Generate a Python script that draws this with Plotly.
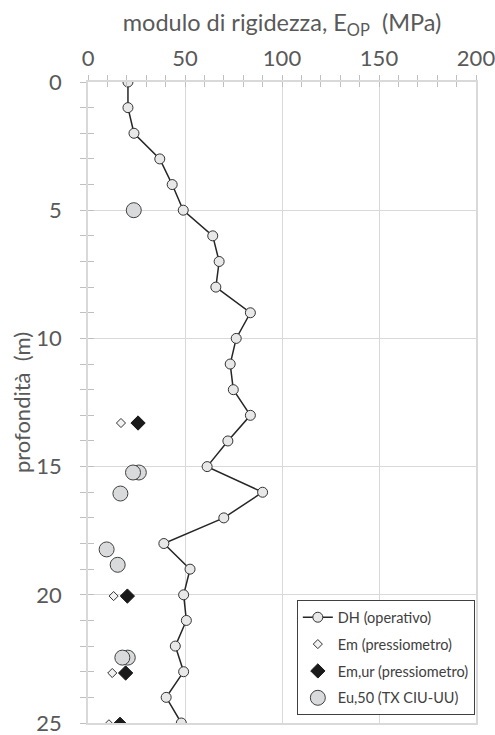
import plotly.graph_objects as go

# DH (operativo): stiffness modulus along the profile, one reading per metre
dh_depth = [0, 1, 2, 3, 4, 5, 6, 7, 8, 9, 10, 11, 12, 13, 14, 15, 16, 17, 18, 19, 20, 21, 22, 23, 24, 25]
dh_mod = [20.6, 20.6, 23.7, 37.0, 43.4, 49.1, 64.3, 67.6, 65.9, 83.7, 76.4, 73.3, 74.9, 83.7,
          72.1, 61.4, 90.0, 70.0, 39.1, 52.6, 49.3, 50.7, 45.0, 49.3, 40.3, 48.1]

# pressuremeter tests
pm_depth = [13.3, 20.05, 23.05, 25.05]
em_mod = [17.0, 13.2, 12.5, 10.8]
emur_mod = [25.8, 20.3, 19.4, 16.5]

# triaxial tests (TX CIU-UU)
tx_depth = [5.0, 15.23, 15.23, 16.05, 18.23, 18.83, 22.45, 22.45]
tx_mod = [23.6, 26.2, 23.2, 16.7, 9.6, 15.3, 20.5, 17.7]

FONT = "Lato, Carlito, Calibri, sans-serif"
TXT = "#595959"
GRID = "#d9d9d9"
TICK = "#bfbfbf"
FS = 22

fig = go.Figure()

fig.add_trace(go.Scatter(
    x=dh_mod, y=dh_depth, mode="lines+markers", name="DH (operativo)",
    line=dict(color="#262626", width=1.5),
    marker=dict(symbol="circle", size=10, color="#e8e8e8", line=dict(color="#333333", width=1)),
    legendgroup="a",
))
fig.add_trace(go.Scatter(
    x=em_mod, y=pm_depth, mode="markers", name="Em (pressiometro)",
    marker=dict(symbol="diamond", size=7, color="#f2f2f2", line=dict(color="#333333", width=1)),
    legendgroup="b",
))
fig.add_trace(go.Scatter(
    x=emur_mod, y=pm_depth, mode="markers", name="Em,ur (pressiometro)",
    marker=dict(symbol="diamond", size=11, color="#1a1a1a", line=dict(color="#1a1a1a", width=1)),
    legendgroup="c",
))
fig.add_trace(go.Scatter(
    x=tx_mod, y=tx_depth, mode="markers", name="Eu,50 (TX CIU-UU)",
    marker=dict(symbol="circle", size=15, color="#d9dadc", line=dict(color="#404040", width=1)),
    legendgroup="d",
))
# carrier for the second (inner-tick) axis pair
fig.add_trace(go.Scatter(x=[None], y=[None], xaxis="x2", yaxis="y2",
                         showlegend=False, hoverinfo="skip"))

xcommon = dict(range=[0, 200], dtick=50, tick0=0, automargin=False)
ycommon = dict(range=[25, 0], dtick=5, tick0=0, automargin=False)

fig.update_layout(
    width=495, height=735,
    margin=dict(l=88, r=19, t=82, b=12),
    paper_bgcolor="white", plot_bgcolor="white",
    font=dict(family=FONT, color=TXT, size=FS),
    xaxis=dict(
        **xcommon, side="top",
        title=dict(text="modulo di rigidezza, E<sub>OP</sub>\u00a0\u00a0(MPa)",
                   font=dict(size=23.5, color=TXT), standoff=6),
        showgrid=True, gridcolor=GRID, gridwidth=1,
        showline=True, linecolor=GRID, linewidth=1.5, mirror=True,
        ticks="outside", ticklen=5, tickcolor=TICK, tickwidth=1,
        minor=dict(dtick=10, ticks="outside", ticklen=5, tickcolor=TICK, tickwidth=1, showgrid=False),
        tickfont=dict(size=FS, color=TXT), ticklabelstandoff=0,
        ticklabeloverflow="allow",
        zeroline=False,
    ),
    yaxis=dict(
        **ycommon,
        title=dict(text="profondità\u00a0\u00a0(m)", font=dict(size=FS, color=TXT), standoff=0),
        showgrid=True, gridcolor=GRID, gridwidth=1,
        showline=True, linecolor=GRID, linewidth=1.5, mirror=True,
        ticks="outside", ticklen=6, tickcolor=TICK, tickwidth=1,
        minor=dict(dtick=1, ticks="outside", ticklen=6, tickcolor=TICK, tickwidth=1, showgrid=False),
        tickfont=dict(size=FS, color=TXT), ticklabelstandoff=14,
        ticklabeloverflow="allow",
        zeroline=False,
    ),
    xaxis2=dict(
        **xcommon, overlaying="x", side="top", anchor="y2",
        showgrid=False, showline=False, showticklabels=False, zeroline=False,
        ticks="inside", ticklen=5, tickcolor=TICK, tickwidth=1,
        minor=dict(dtick=10, ticks="inside", ticklen=5, tickcolor=TICK, tickwidth=1, showgrid=False),
    ),
    yaxis2=dict(
        **ycommon, overlaying="y", side="left", anchor="x2",
        showgrid=False, showline=False, showticklabels=False, zeroline=False,
        ticks="inside", ticklen=6, tickcolor=TICK, tickwidth=1,
        minor=dict(dtick=1, ticks="inside", ticklen=6, tickcolor=TICK, tickwidth=1, showgrid=False),
    ),
    legend=dict(
        x=0.997, y=0.012, xanchor="right", yanchor="bottom",
        bgcolor="white", bordercolor="#404040", borderwidth=1,
        font=dict(size=14.5, color="#404040", family=FONT),
        traceorder="grouped", tracegroupgap=5,
        itemwidth=30,
    ),
    showlegend=True,
)

fig.write_html("out.html")
